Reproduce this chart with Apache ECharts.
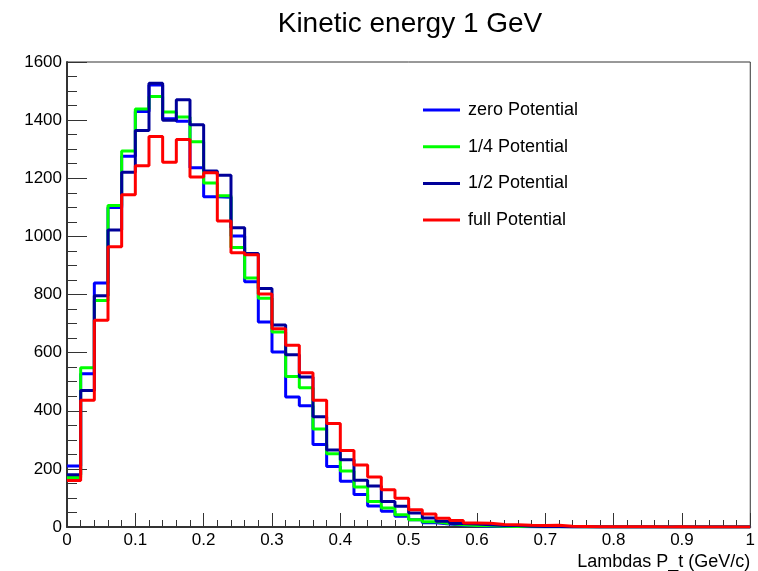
<!DOCTYPE html>
<html>
<head>
<meta charset="utf-8">
<title>Kinetic energy 1 GeV</title>
<script src="https://cdn.jsdelivr.net/npm/echarts@6/dist/echarts.min.js"></script>
<style>
  html, body { margin: 0; padding: 0; background: #ffffff; }
  #chart { width: 758px; height: 571px; }
</style>
</head>
<body>
<div id="chart"></div>
<script>
// Histogram binning: 50 bins of 0.02 GeV/c from 0 to 1
const binStart = 0;
const binWidth = 0.02;

// Lambda transverse momentum counts per bin
const zeroPotential = [210, 527, 840, 1099, 1276, 1430, 1521, 1405, 1396, 1236,
  1136, 1135, 1001, 844, 705, 602, 447, 417, 284, 208,
  157, 112, 72, 54, 37, 25, 15, 10, 6, 4,
  3, 2, 2, 1, 1, 1, 0, 0, 0, 0,
  0, 0, 0, 0, 0, 0, 0, 0, 0, 0];
const quarterPotential = [170, 548, 779, 1106, 1294, 1438, 1481, 1428, 1411, 1326,
  1184, 1140, 962, 857, 787, 671, 518, 479, 337, 252,
  193, 138, 88, 65, 42, 25, 18, 12, 8, 5,
  4, 3, 2, 2, 1, 1, 1, 0, 0, 0,
  0, 0, 0, 0, 0, 0, 0, 0, 0, 0];
const halfPotential = [180, 470, 796, 1022, 1221, 1364, 1527, 1400, 1470, 1384,
  1225, 1210, 1030, 941, 821, 695, 593, 516, 379, 265,
  231, 161, 141, 88, 71, 48, 31, 20, 12, 10,
  8, 5, 5, 3, 2, 2, 1, 1, 0, 0,
  0, 0, 0, 0, 0, 0, 0, 0, 0, 0];
const fullPotential = [160, 436, 711, 964, 1143, 1243, 1344, 1255, 1333, 1204,
  1219, 1053, 944, 937, 802, 682, 625, 531, 436, 356,
  263, 213, 172, 128, 99, 59, 45, 30, 22, 14,
  13, 9, 8, 6, 5, 6, 3, 2, 1, 1,
  1, 1, 1, 0, 1, 0, 0, 0, 0, 0];

const seriesNames = ['zero Potential', '1/4 Potential', '1/2 Potential', 'full Potential'];
const seriesColors = ['#0000ff', '#00ff00', '#000099', '#ff0000'];
const seriesValues = [zeroPotential, quarterPotential, halfPotential, fullPotential];

const yTicks = [0, 200, 400, 600, 800, 1000, 1200, 1400, 1600];
const xTicks = [0, 0.1, 0.2, 0.3, 0.4, 0.5, 0.6, 0.7, 0.8, 0.9, 1];

// Turn bin contents into step points at each lower bin edge, plus the closing edge
function stepPoints(values) {
  const pts = values.map((v, i) => [+(binStart + i * binWidth).toFixed(4), v]);
  pts.push([+(binStart + values.length * binWidth).toFixed(4), values[values.length - 1]]);
  return pts;
}

const FONT = '"Liberation Sans", Arial, Helvetica, sans-serif';
const chart = echarts.init(document.getElementById('chart'), null, { renderer: 'canvas' });

chart.setOption({
  backgroundColor: '#ffffff',
  animation: false,
  title: {
    text: 'Kinetic energy 1 GeV',
    left: 405,
    top: 5,
    textAlign: 'center',
    textStyle: { fontFamily: FONT, fontSize: 28, fontWeight: 'normal', color: '#000000' }
  },
  legend: {
    orient: 'vertical',
    left: 418,
    top: 95,
    itemWidth: 37,
    itemHeight: 3,
    itemGap: 16.7,
    icon: 'rect',
    data: seriesNames,
    textStyle: { fontFamily: FONT, fontSize: 18, color: '#000000', padding: [0, 0, 0, 3], lineHeight: 20 }
  },
  grid: {
    left: 67, right: 5, top: 62, bottom: 42,
    show: true, borderColor: '#333333', borderWidth: 1, backgroundColor: 'transparent'
  },
  xAxis: {
    type: 'value',
    min: xTicks[0],
    max: xTicks[xTicks.length - 1],
    interval: 0.1,
    name: 'Lambdas P_t (GeV/c)',
    nameLocation: 'end',
    nameGap: 0,
    nameTextStyle: { fontFamily: FONT, fontSize: 18, color: '#000000', align: 'right', verticalAlign: 'top', padding: [26, 0, 0, 0] },
    axisLine: { show: true, onZero: false, lineStyle: { color: '#333333', width: 2 } },
    axisTick: { show: true, inside: true, length: 14, lineStyle: { color: '#333333', width: 1 } },
    minorTick: { show: true, splitNumber: 5, length: 7, lineStyle: { color: '#333333', width: 1 } },
    axisLabel: {
      fontFamily: FONT, fontSize: 17, color: '#000000', margin: 5,
      formatter: v => String(+v.toFixed(1))
    },
    splitLine: { show: false }
  },
  yAxis: {
    type: 'value',
    min: yTicks[0],
    max: yTicks[yTicks.length - 1],
    interval: 200,
    axisLine: { show: true, onZero: false, lineStyle: { color: '#333333', width: 2 } },
    axisTick: { show: true, inside: true, length: 20, lineStyle: { color: '#333333', width: 1 } },
    minorTick: { show: true, splitNumber: 4, length: 10, lineStyle: { color: '#333333', width: 1 } },
    axisLabel: { fontFamily: FONT, fontSize: 17, color: '#000000', margin: 5, formatter: v => String(v) },
    splitLine: { show: false }
  },
  series: seriesValues.map((vals, i) => ({
    name: seriesNames[i],
    type: 'line',
    step: 'end',
    data: stepPoints(vals),
    showSymbol: false,
    symbol: 'none',
    color: seriesColors[i],
    lineStyle: { color: seriesColors[i], width: 3 },
    z: 2 + i
  }))
});
</script>
</body>
</html>
